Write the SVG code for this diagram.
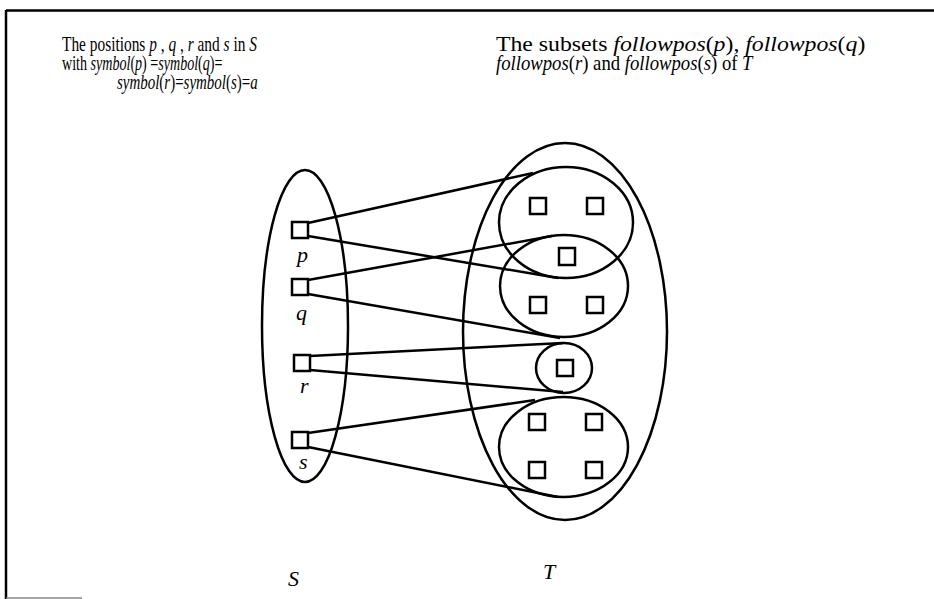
<svg xmlns="http://www.w3.org/2000/svg" width="934" height="599" viewBox="0 0 934 599">
<style>
.ln{stroke:#000;stroke-width:2.5;fill:none}
.sq{stroke:#000;stroke-width:2.5;fill:#fff}
.el{stroke:#000;stroke-width:2.5;fill:none}
.h{font-family:"Liberation Serif","Times New Roman",serif;font-size:22px;fill:#000}
.i{font-style:italic}
</style>
<rect width="934" height="599" fill="#fff"/>
<g id="frame">
<line x1="6" y1="10.5" x2="934" y2="10.5" stroke="#000" stroke-width="2.5"/>
<line x1="6" y1="10" x2="6" y2="599" stroke="#000" stroke-width="2.5"/>
<line x1="6" y1="598" x2="82" y2="598" stroke="#888" stroke-width="1.5"/>
</g>
<g id="captions">
<text class="h" transform="translate(62,51) scale(0.7,1)">The positions <tspan class="i">p</tspan> , <tspan class="i">q</tspan> , <tspan class="i">r</tspan>  and <tspan class="i">s</tspan> in <tspan class="i">S</tspan></text>
<text class="h" transform="translate(62,70) scale(0.64,1)">with  <tspan class="i">symbol</tspan>(<tspan class="i">p</tspan>) =<tspan class="i">symbol</tspan>(<tspan class="i">q</tspan>)=</text>
<text class="h" transform="translate(117,89) scale(0.68,1)"><tspan class="i">symbol</tspan>(<tspan class="i">r</tspan>)=<tspan class="i">symbol</tspan>(<tspan class="i">s</tspan>)=<tspan class="i">a</tspan></text>
<text class="h" transform="translate(496,51) scale(1.08,1)">The subsets <tspan class="i">followpos</tspan>(<tspan class="i">p</tspan>), <tspan class="i">followpos</tspan>(<tspan class="i">q</tspan>)</text>
<text class="h" transform="translate(496,70) scale(0.85,1)"><tspan class="i">followpos</tspan>(<tspan class="i">r</tspan>) and <tspan class="i">followpos</tspan>(<tspan class="i">s</tspan>) of <tspan class="i">T</tspan></text>
</g>
<g id="connectors">
<line class="ln" x1="308" y1="223" x2="533" y2="173"/>
<line class="ln" x1="308" y1="236" x2="558" y2="278"/>
<line class="ln" x1="308" y1="280" x2="552" y2="236"/>
<line class="ln" x1="308" y1="294" x2="560" y2="338"/>
<line class="ln" x1="310" y1="356" x2="563" y2="343"/>
<line class="ln" x1="310" y1="370" x2="563" y2="392"/>
<line class="ln" x1="308" y1="433" x2="535" y2="400"/>
<line class="ln" x1="308" y1="447" x2="558" y2="497"/>
</g>
<g id="S">
<ellipse class="el" cx="305" cy="326" rx="43" ry="156"/>
<text class="h i" x="288" y="586">S</text>
</g>
<g id="T">
<ellipse class="el" cx="565" cy="331.5" rx="102" ry="188.5"/>
<text class="h i" x="543" y="579">T</text>
</g>
<g id="pos-p"><rect class="sq" x="292" y="222" width="16" height="16"/><text class="h i" x="297" y="262">p</text></g>
<g id="pos-q"><rect class="sq" x="292" y="279" width="16" height="16"/><text class="h i" x="296" y="320">q</text></g>
<g id="pos-r"><rect class="sq" x="294" y="355" width="16" height="16"/><text class="h i" x="300" y="393">r</text></g>
<g id="pos-s"><rect class="sq" x="292" y="432" width="16" height="16"/><text class="h i" x="299" y="469">s</text></g>
<g id="followpos-p"><ellipse class="el" cx="566" cy="222.5" rx="67" ry="55.5"/></g>
<g id="followpos-q"><ellipse class="el" cx="564" cy="286" rx="64" ry="51"/></g>
<g id="followpos-r"><ellipse class="el" cx="564" cy="368" rx="28" ry="25"/></g>
<g id="followpos-s"><ellipse class="el" cx="563.5" cy="447" rx="64.5" ry="50"/></g>
<g id="T-positions">
<rect class="sq" x="530" y="198" width="16" height="16"/>
<rect class="sq" x="587" y="198" width="16" height="16"/>
<rect class="sq" x="559" y="248" width="16" height="17"/>
<rect class="sq" x="530" y="297" width="16" height="16"/>
<rect class="sq" x="587" y="297" width="16" height="16"/>
<rect class="sq" x="557" y="360" width="16" height="16"/>
<rect class="sq" x="529" y="414" width="16" height="16"/>
<rect class="sq" x="586" y="414" width="16" height="16"/>
<rect class="sq" x="529" y="462" width="16" height="16"/>
<rect class="sq" x="586" y="462" width="16" height="16"/>
</g>
</svg>
